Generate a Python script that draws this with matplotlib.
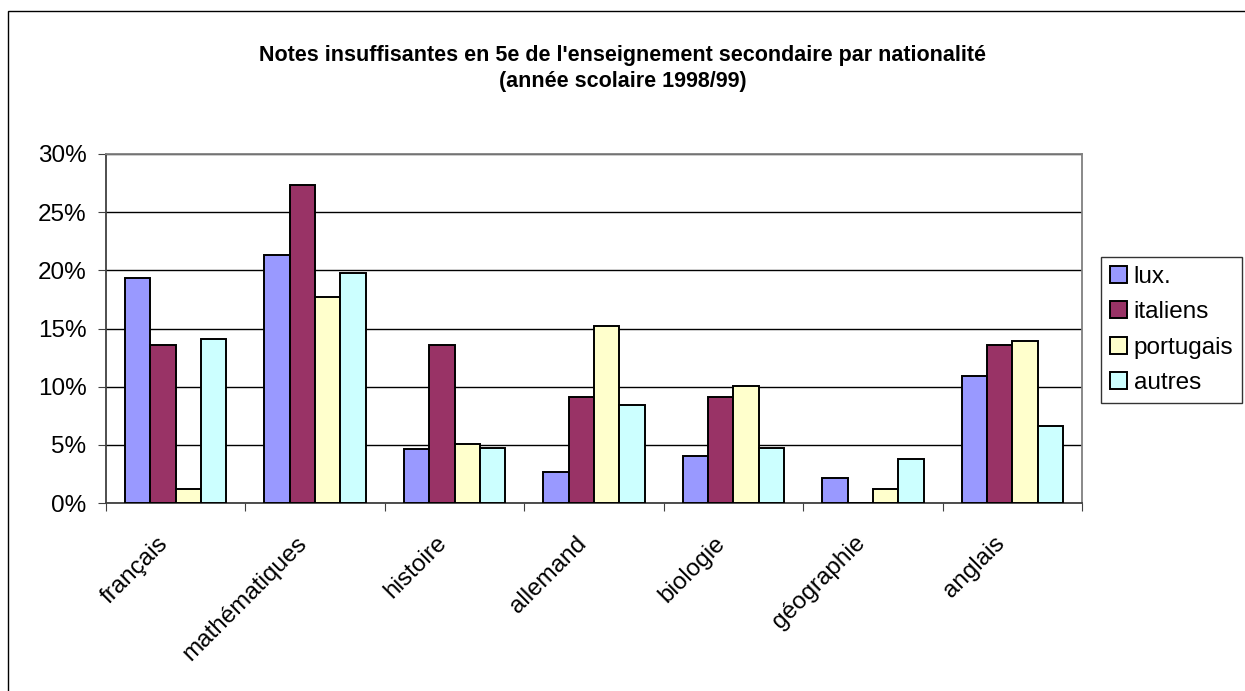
import numpy as np
import matplotlib
matplotlib.use('Agg')
import matplotlib.pyplot as plt
from matplotlib.patches import Rectangle
from matplotlib.ticker import FuncFormatter
from matplotlib.transforms import ScaledTranslation

plt.rcParams['font.family'] = ['Liberation Sans', 'DejaVu Sans']

# data (share of insufficient marks, in %)
subjects = ['français', 'mathématiques', 'histoire', 'allemand', 'biologie', 'géographie', 'anglais']
lux = [19.3, 21.3, 4.6, 2.7, 4.0, 2.15, 10.9]
italiens = [13.6, 27.3, 13.6, 9.1, 9.1, 0.0, 13.6]
portugais = [1.2, 17.7, 5.1, 15.2, 10.1, 1.2, 13.95]
autres = [14.1, 19.8, 4.7, 8.45, 4.7, 3.8, 6.65]
series_names = ['lux.', 'italiens', 'portugais', 'autres']
colors = ['#9999FF', '#993366', '#FFFFCC', '#CCFFFF']

fig = plt.figure(figsize=(12.45, 6.91), dpi=100)
ax = fig.add_axes([106 / 1245, 1 - 503 / 691, (1082 - 106) / 1245, (503 - 154) / 691])

# outer chart border
fig.patches.append(Rectangle((7.5 / 1245, -0.01), 1.2, 1 - 11.5 / 691 + 0.01, transform=fig.transFigure,
                             fill=False, edgecolor='black', linewidth=1.0))

x = np.arange(len(subjects))
bw = 1 / 5.5
for i, (vals, name, c) in enumerate(zip([lux, italiens, portugais, autres], series_names, colors)):
    ax.bar(x + (i - 1.5) * bw, vals, width=bw, color=c, edgecolor='black', linewidth=1.4,
           label=name, zorder=3)

ax.set_xlim(-0.5, len(subjects) - 0.5)
ax.set_ylim(0, 30)
ax.set_yticks(np.arange(0, 31, 5))
ax.yaxis.set_major_formatter(FuncFormatter(lambda v, p: '%d%%' % v))
ax.yaxis.grid(True, color='black', linewidth=1.0, zorder=0)
ax.set_axisbelow(True)

ax.set_xticks(np.arange(len(subjects) + 1) - 0.5)
ax.set_xticklabels([])
ax.set_xticks(x, minor=True)
ax.set_xticklabels(subjects, minor=True, rotation=45, ha='right', va='top',
                   rotation_mode='anchor', fontsize=17.5)
ax.tick_params(axis='x', which='minor', length=0, pad=21)
ax.tick_params(axis='x', which='major', length=6, direction='out', color='#404040')
ax.tick_params(axis='y', length=6, direction='out', color='#404040', labelsize=17.5, pad=8)
shift = ScaledTranslation(-0.19, 0, fig.dpi_scale_trans)
for lbl in ax.get_xticklabels(minor=True):
    lbl.set_transform(lbl.get_transform() + shift)

for s in ax.spines.values():
    s.set_color('#808080')
    s.set_linewidth(1.3)
ax.spines['left'].set_color('#404040')
ax.spines['bottom'].set_color('#404040')

fig.text(0.5, 1 - 55 / 691, "Notes insuffisantes en 5e de l'enseignement secondaire par nationalité",
         ha='center', va='center', fontsize=15.5, fontweight='bold')
fig.text(0.5, 1 - 82 / 691, "(année scolaire 1998/99)",
         ha='center', va='center', fontsize=15.5, fontweight='bold')

leg = fig.legend(loc='center left', bbox_to_anchor=(1101 / 1245, 1 - 330 / 691), fontsize=17.5,
                 frameon=True, fancybox=False, edgecolor='black', handlelength=0.7, handleheight=0.7,
                 handletextpad=0.3, labelspacing=0.55, borderpad=0.35, borderaxespad=0)
leg.get_frame().set_linewidth(1.0)

fig.savefig('out.png', dpi=100)
